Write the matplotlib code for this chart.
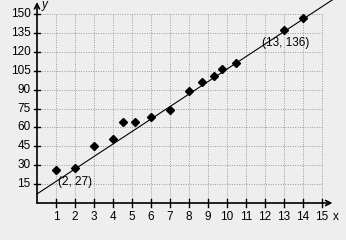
import matplotlib
matplotlib.use("Agg")
import matplotlib.pyplot as plt
import numpy as np

plt.rcParams['font.family'] = ['Liberation Sans', 'DejaVu Sans']

x_pts = [1, 2, 3, 4, 4.5, 5.15, 6, 7, 8, 8.67, 9.33, 9.75, 10.45, 13, 14]
y_pts = [26, 28, 45, 51, 64, 64, 68, 74, 89, 96, 101, 106, 111, 137, 147]
x_ticks = list(range(1, 16))
y_ticks = list(range(15, 151, 15))
labeled = [(2, 27), (13, 136)]
line_x_range = [0, 15.6]

bg = '#eeeeee'
fig = plt.figure(figsize=(3.46, 2.40), dpi=100, facecolor=bg)
W, H = 346, 240
left, bottom = 37, 240 - 203
ax = fig.add_axes([left / W, bottom / H, (W - left) / W, (H - bottom) / H])
ax.set_facecolor(bg)
ax.set_xlim(0, (W - left) / 19.0)
ax.set_ylim(0, 203 / 18.9 * 15)
for s in ax.spines.values():
    s.set_visible(False)
ax.set_xticks([]); ax.set_yticks([])

# grid
for xv in x_ticks:
    ax.plot([xv, xv], [0, 150], color='#999999', lw=0.7, ls=(0, (1, 1.5)), zorder=1)
for yv in y_ticks:
    ax.plot([0, 15], [yv, yv], color='#999999', lw=0.7, ls=(0, (1, 1.5)), zorder=1)

# axes with arrows
ax.annotate('', xy=(15.55, 0), xytext=(0, 0),
            arrowprops=dict(arrowstyle='->', lw=1.2, color='black', shrinkA=0, shrinkB=0,
                            mutation_scale=9), zorder=3, annotation_clip=False)
ax.annotate('', xy=(0, 159.5), xytext=(0, 0),
            arrowprops=dict(arrowstyle='->', lw=1.2, color='black', shrinkA=0, shrinkB=0,
                            mutation_scale=9), zorder=3, annotation_clip=False)

# ticks and labels
for xv in x_ticks:
    ax.plot([xv, xv], [-3, 3], color='black', lw=1.0, zorder=3, clip_on=False)
    ax.text(xv, -11.5, str(xv), ha='center', va='center', fontsize=8.5, clip_on=False)
for yv in y_ticks:
    ax.plot([-0.15, 0.15], [yv, yv], color='black', lw=1.0, zorder=3, clip_on=False)
    ax.text(-0.33, yv, str(yv), ha='right', va='center', fontsize=8.5, clip_on=False)
ax.text(15.95 - 0.2, -11.5, 'x', ha='center', va='center', fontsize=8.5, clip_on=False)
ax.text(0.25, 157, 'y', ha='left', va='center', fontsize=8.5, style='italic', clip_on=False)

# trend line through the labeled points
(x1, y1), (x2, y2) = labeled
slope = (y2 - y1) / (x2 - x1)
icpt = y1 - slope * x1
lx = np.array(line_x_range)
ax.plot(lx, icpt + slope * lx, color='black', lw=0.8, zorder=4, clip_on=False)

# points
ax.plot(x_pts, y_pts, 'D', color='black', markersize=3.8, zorder=5, clip_on=False)

# labels
ax.text(x1 - 0.88, y1 - 10.3, '(%d, %d)' % (x1, y1), ha='left', va='center', fontsize=8.5, zorder=6)
ax.text(x2 - 1.17, y2 - 9.2, '(%d, %d)' % (x2, y2), ha='left', va='center', fontsize=8.5, zorder=6)

fig.savefig('out.png', dpi=100, facecolor=bg)
